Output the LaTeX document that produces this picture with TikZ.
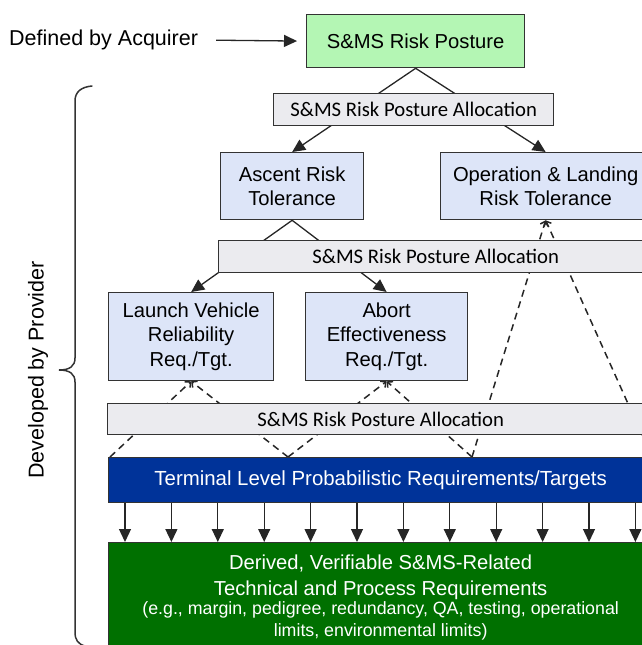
\documentclass[tikz,border=0pt]{standalone}
\usepackage{fontspec}
\setmainfont{Liberation Sans}
\newfontfamily\barfont{Carlito}
\usetikzlibrary{arrows.meta,backgrounds}
\definecolor{topgreen}{HTML}{B4F6B4}
\definecolor{lightblue}{HTML}{DDE5F8}
\definecolor{bargray}{HTML}{EBEBEF}
\definecolor{termblue}{HTML}{003399}
\definecolor{darkgreen}{HTML}{007000}
\definecolor{edge}{HTML}{333333}
\tikzset{
  box/.style={draw=edge, line width=1.3pt, anchor=north west, inner sep=0pt, align=center,
    font=\fontsize{20.2}{24.5}\selectfont},
  riskbox/.style={box, fill=lightblue},
  allocbar/.style={box, fill=bargray, font=\barfont\fontsize{20.7}{24}\selectfont},
  solidarrow/.style={draw=black!85, line width=1.3pt, -{Triangle[length=13pt,width=12pt]}},
  dasharrow/.style={draw=black!85, line width=1.5pt, dash pattern=on 7pt off 5pt,
    -{Straight Barb[length=4pt,width=8pt]}},
  bracestyle/.style={draw=edge, line width=1.5pt, line cap=round},
}
\begin{document}
\begin{tikzpicture}[x=1pt,y=-1pt]
\useasboundingbox (0,0) rectangle (642,645);
% nodes
\node[anchor=west, inner sep=0pt, font=\fontsize{21.5}{24}\selectfont] (acq) at (9,40) {Defined by Acquirer};
\node[box, fill=topgreen, minimum width=218pt, minimum height=53pt] (top) at (306,14) {S\&MS Risk Posture};
\node[allocbar, minimum width=280pt, minimum height=32pt] (bar1) at (273,93) {S\&MS Risk Posture Allocation};
\node[riskbox, minimum width=143pt, minimum height=67pt] (asc) at (220,152) {Ascent Risk\\Tolerance};
\node[riskbox, minimum width=210pt, minimum height=67pt] (op) at (440,152) {Operation \& Landing\\Risk Tolerance};
\node[allocbar, minimum width=434pt, minimum height=32pt] (bar2) at (218,240) {S\&MS Risk Posture Allocation};
\node[riskbox, minimum width=165pt, minimum height=88pt] (lv) at (108,292) {Launch Vehicle\\Reliability\\Req./Tgt.};
\node[riskbox, minimum width=162pt, minimum height=88pt] (abort) at (305,292) {Abort\\Effectiveness\\Req./Tgt.};
\node[allocbar, minimum width=546pt, minimum height=31pt] (bar3) at (107,403) {S\&MS Risk Posture Allocation};
\node[box, fill=termblue, text=white, minimum width=544pt, minimum height=45pt,
  font=\fontsize{20.4}{24}\selectfont] (term) at (108,457)
  {Terminal Level Probabilistic Requirements/Targets};
\node[box, fill=darkgreen, text=white, minimum width=544pt, minimum height=110pt,
  font=\fontsize{17.8}{22}\selectfont] (derived) at (108,542)
  {{\fontsize{20.2}{22}\selectfont Derived, Verifiable S\&MS-Related}\\[4pt]
   {\fontsize{20.2}{22}\selectfont Technical and Process Requirements}\\[-3pt]
   (e.g., margin, pedigree, redundancy, QA, testing, operational\\
   limits, environmental limits)};
\node[rotate=90, inner sep=0pt, font=\fontsize{21.5}{24}\selectfont] (dev) at (38,370) {Developed by Provider};
% terminal top points
\coordinate (t1) at ([xshift=2pt]term.north west);
\coordinate (t2) at ([xshift=180pt]term.north west);
\coordinate (t3) at ([xshift=364pt]term.north west);
\coordinate (t4) at ([xshift=544pt]term.north west);
% connectors
\begin{scope}[on background layer]
  \draw[solidarrow, shorten <=18pt, shorten >=9pt] (acq.east) -- (top.west);
  \draw[solidarrow] (top.south) -- (asc.north);
  \draw[solidarrow] (top.south) -- (op.north);
  \draw[solidarrow] (asc.south) -- (lv.north);
  \draw[solidarrow] (asc.south) -- (abort.north);
  \draw[dasharrow] (t1) -- (lv.south);
  \draw[dasharrow] (t2) -- (lv.south);
  \draw[dasharrow] (t2) -- (abort.south);
  \draw[dasharrow] (t3) -- (abort.south);
  \draw[dasharrow] (t3) -- (op.south);
  \draw[dasharrow] (t4) -- (op.south);
\end{scope}
\foreach \i in {0,...,11}{
  \draw[solidarrow] ([xshift=17pt+\i*46.4pt]term.south west) -- ([xshift=17pt+\i*46.4pt]term.south west |- derived.north);
}
% brace
\draw[bracestyle] (92,86) .. controls (81,87) and (75,92) .. (75,101)
  -- (75,358) .. controls (75,366) and (70,370) .. (59,370)
  .. controls (70,370) and (75,374) .. (75,382)
  -- (75,632) .. controls (75,640) and (78,644) .. (85,646);
\end{tikzpicture}
\end{document}
